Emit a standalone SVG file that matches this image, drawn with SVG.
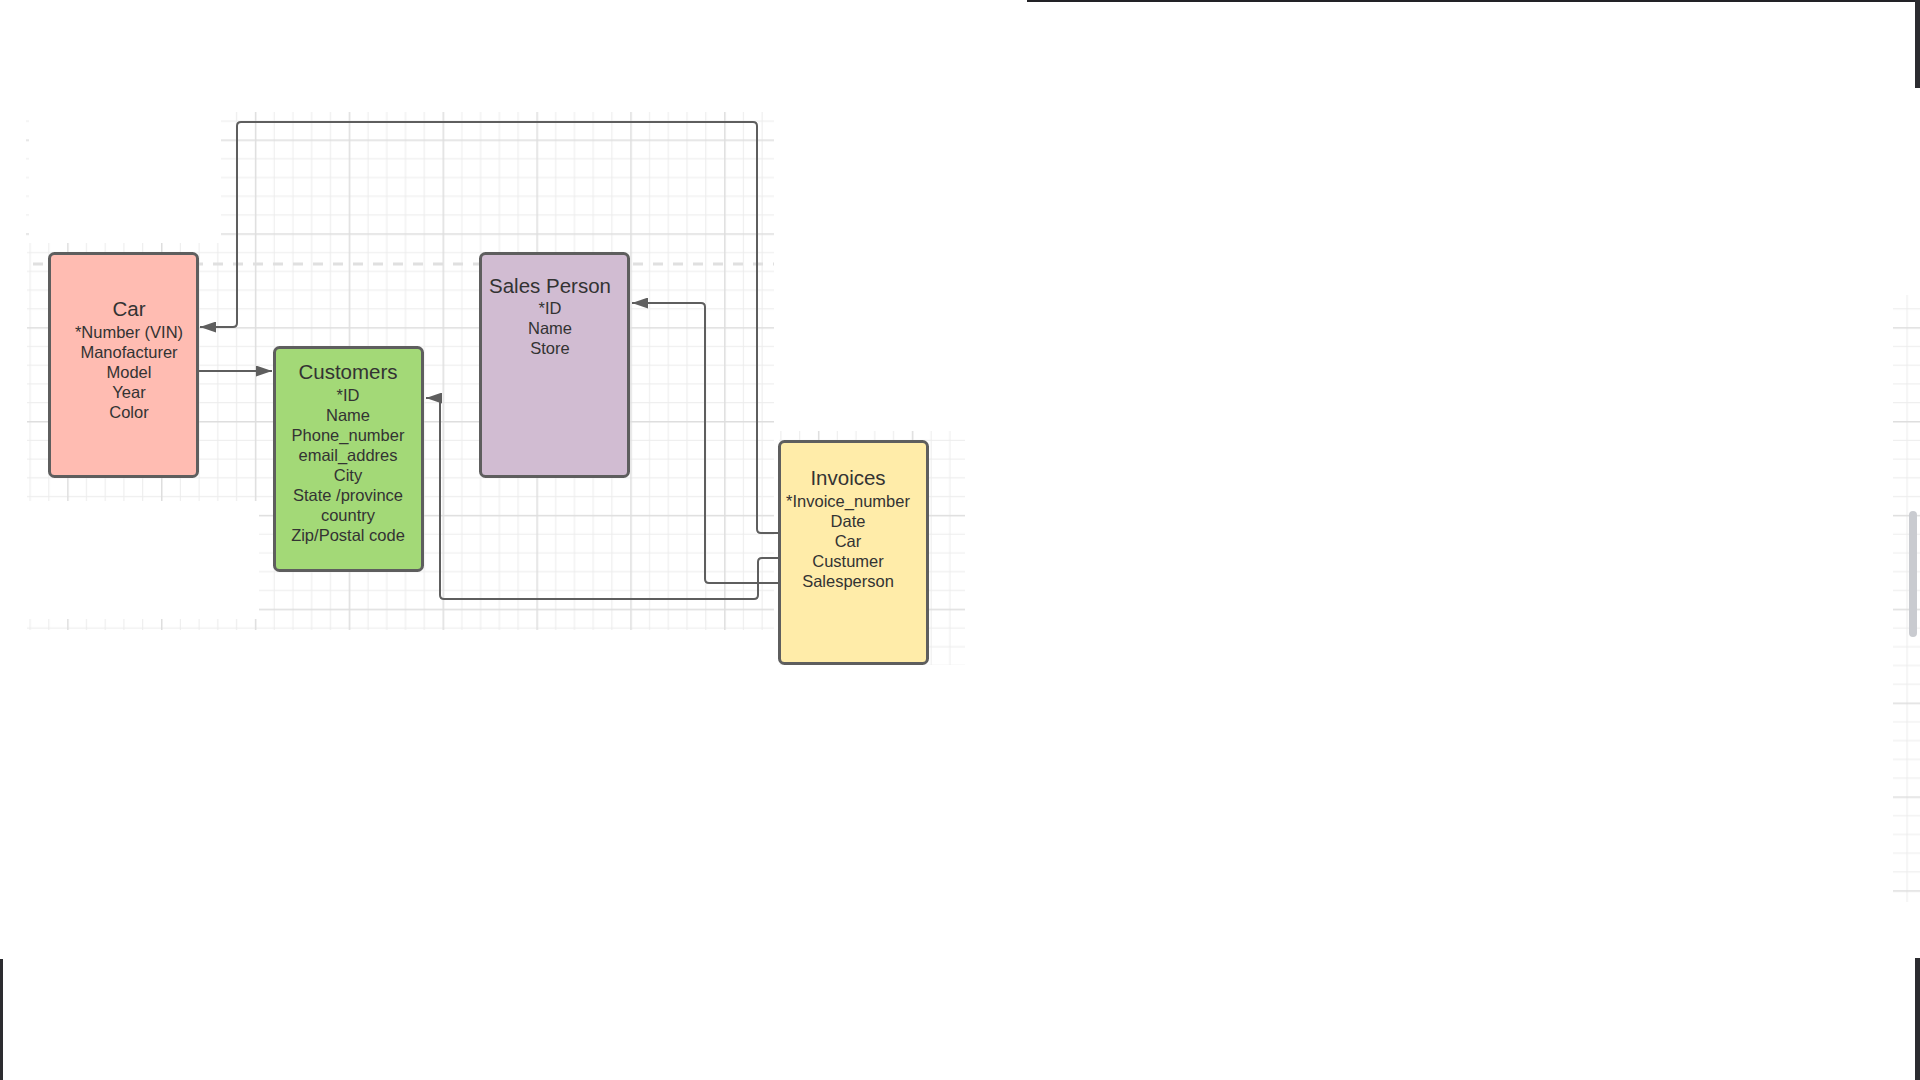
<svg xmlns="http://www.w3.org/2000/svg" width="1920" height="1080" viewBox="0 0 1920 1080">
<style>
.box{stroke:#5e5e5e;stroke-width:3}
.t{font-family:"Liberation Sans",Arial,sans-serif;fill:#333333;text-anchor:middle}
.h{font-size:20.5px}
.a{font-size:16.5px}
.conn path{fill:none;stroke:#5e5e5e;stroke-width:2;marker-end:url(#arr)}
</style>
<defs>
<pattern id="grid" patternUnits="userSpaceOnUse" x="161" y="233.3" width="93.85" height="93.85">
<g fill="#ececec">
<rect x="18.77" y="0" width="1" height="93.85"/><rect x="37.54" y="0" width="1" height="93.85"/><rect x="56.31" y="0" width="1" height="93.85"/><rect x="75.08" y="0" width="1" height="93.85"/>
<rect y="18.77" x="0" height="1" width="93.85"/><rect y="37.54" x="0" height="1" width="93.85"/><rect y="56.31" x="0" height="1" width="93.85"/><rect y="75.08" x="0" height="1" width="93.85"/>
</g>
<g fill="#dedede">
<rect x="0" y="0" width="1.5" height="93.85"/><rect x="0" y="0" width="93.85" height="1.5"/>
</g>
</pattern>
<marker id="arr" markerUnits="userSpaceOnUse" markerWidth="16" markerHeight="11" refX="16" refY="5.5" orient="auto">
<path d="M0,0 L16,5.5 L0,11 Z" fill="#5e5e5e"/>
</marker>
</defs>
<rect width="1920" height="1080" fill="#ffffff"/>
<g id="background">
<rect x="221" y="112" width="553" height="389" fill="url(#grid)"/>
<rect x="27" y="243" width="194" height="258" fill="url(#grid)"/>
<rect x="26" y="112" width="3" height="131" fill="url(#grid)"/>
<rect x="259" y="501" width="515" height="129" fill="url(#grid)"/>
<rect x="27" y="619" width="232" height="11" fill="url(#grid)"/>
<rect x="779" y="431" width="186" height="234" fill="url(#grid)"/>
<line x1="33" y1="264" x2="774" y2="264" stroke="#e0e0e0" stroke-width="3" stroke-dasharray="10 10"/>
<rect x="1027" y="0" width="893" height="2" fill="#222226"/>
<rect x="1915" y="0" width="5" height="88" fill="#2c2c30"/>
<rect x="1893" y="295" width="27" height="607" fill="url(#grid)"/>
<rect x="1909" y="511" width="8" height="126" rx="4" fill="#c9cbd0"/>
<rect x="1915" y="958" width="5" height="122" fill="#2c2c30"/>
<rect x="0" y="959" width="3" height="121" fill="#2c2c30"/>
</g>
<g id="connectors" class="conn">
<path d="M778,533 H761 Q757,533 757,529 V126 Q757,122 753,122 H241 Q237,122 237,126 V323 Q237,327 233,327 H200"/>
<path d="M199,371 H272"/>
<path d="M778,558 H762 Q758,558 758,562 V595 Q758,599 754,599 H444 Q440,599 440,595 V398 H426"/>
<path d="M778,583 H709 Q705,583 705,579 V307 Q705,303 701,303 H632"/>
</g>
<g id="car">
<rect class="box" x="49.5" y="253.5" width="148" height="223" rx="5" fill="#ffbcb2"/>
<text class="t h" x="129" y="316">Car</text>
<text class="t a" x="129" y="338">*Number (VIN)</text>
<text class="t a" x="129" y="358">Manofacturer</text>
<text class="t a" x="129" y="378">Model</text>
<text class="t a" x="129" y="398">Year</text>
<text class="t a" x="129" y="418">Color</text>
</g>
<g id="customers">
<rect class="box" x="274.5" y="347.5" width="148" height="223" rx="5" fill="#a3d977"/>
<text class="t h" x="348" y="379">Customers</text>
<text class="t a" x="348" y="401">*ID</text>
<text class="t a" x="348" y="421">Name</text>
<text class="t a" x="348" y="441">Phone_number</text>
<text class="t a" x="348" y="461">email_addres</text>
<text class="t a" x="348" y="481">City</text>
<text class="t a" x="348" y="501">State /province</text>
<text class="t a" x="348" y="521">country</text>
<text class="t a" x="348" y="541">Zip/Postal code</text>
</g>
<g id="sales-person">
<rect class="box" x="480.5" y="253.5" width="148" height="223" rx="5" fill="#d1bcd2"/>
<text class="t h" x="550" y="293">Sales Person</text>
<text class="t a" x="550" y="314">*ID</text>
<text class="t a" x="550" y="334">Name</text>
<text class="t a" x="550" y="354">Store</text>
</g>
<g id="invoices">
<rect class="box" x="779.5" y="441.5" width="148" height="222" rx="5" fill="#ffeca9"/>
<text class="t h" x="848" y="485">Invoices</text>
<text class="t a" x="848" y="507">*Invoice_number</text>
<text class="t a" x="848" y="527">Date</text>
<text class="t a" x="848" y="547">Car</text>
<text class="t a" x="848" y="567">Custumer</text>
<text class="t a" x="848" y="587">Salesperson</text>
</g>
</svg>
